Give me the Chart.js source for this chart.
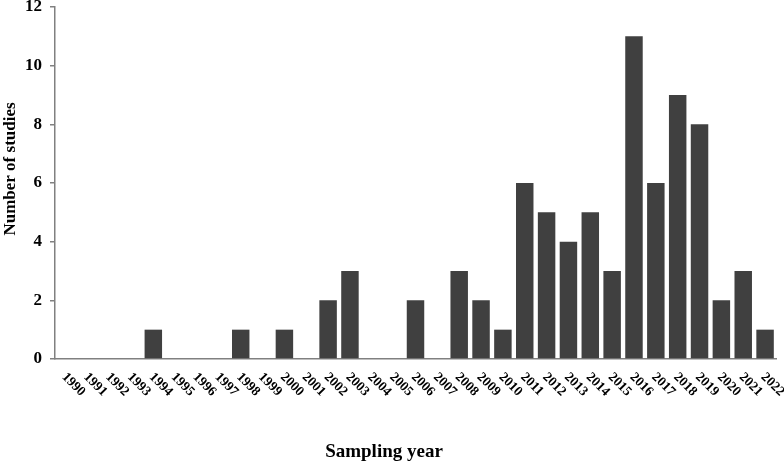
<!DOCTYPE html>
<html>
<head>
<meta charset="utf-8">
<script src="https://cdn.jsdelivr.net/npm/chart.js@4/dist/chart.umd.min.js"></script>
<style>
  html, body { margin: 0; padding: 0; background: #ffffff; }
  #wrap { width: 784px; height: 466px; position: relative; }
</style>
</head>
<body>
<div id="wrap"><canvas id="c" width="784" height="466"></canvas></div>
<script>
const years = ["1990","1991","1992","1993","1994","1995","1996","1997","1998","1999","2000","2001","2002","2003","2004","2005","2006","2007","2008","2009","2010","2011","2012","2013","2014","2015","2016","2017","2018","2019","2020","2021","2022"];
const studies = [0,0,0,0,1,0,0,0,1,0,1,0,2,3,0,0,2,0,3,2,1,6,5,4,5,3,11,6,9,8,2,3,1];
const yTicks = [0,2,4,6,8,10,12];
const xTitle = "Sampling year";
const yTitle = "Number of studies";

const FONT = "'Liberation Serif', 'Times New Roman', serif";

const labelPlugin = {
  id: 'customLabels',
  afterDraw(chart) {
    const ctx = chart.ctx;
    const xs = chart.scales.x;
    const area = chart.chartArea;
    ctx.save();
    ctx.fillStyle = '#000';
    ctx.font = "bold 13.5px " + FONT;
    ctx.textAlign = 'left';
    ctx.textBaseline = 'middle';
    years.forEach((y, i) => {
      const px = xs.getPixelForValue(i);
      ctx.save();
      ctx.translate(px - 2, area.bottom + 16);
      ctx.rotate(Math.PI / 4);
      ctx.fillText(y, 0, 0);
      ctx.restore();
    });
    ctx.font = "bold 19px " + FONT;
    ctx.textAlign = 'center';
    ctx.textBaseline = 'alphabetic';
    ctx.fillText(xTitle, 384, 457);
    ctx.save();
    ctx.font = "bold 17px " + FONT;
    ctx.translate(15, 169);
    ctx.rotate(-Math.PI / 2);
    ctx.fillText(yTitle, 0, 0);
    ctx.restore();
    ctx.restore();
  }
};

new Chart(document.getElementById('c'), {
  type: 'bar',
  data: {
    labels: years,
    datasets: [{
      data: studies,
      backgroundColor: '#404040',
      borderWidth: 0,
      categoryPercentage: 1.0,
      barPercentage: 0.8
    }]
  },
  options: {
    responsive: false,
    animation: false,
    devicePixelRatio: 1,
    layout: { padding: { left: 0, right: 8, top: 7, bottom: 107 } },
    plugins: { legend: { display: false }, tooltip: { enabled: false } },
    scales: {
      x: {
        grid: { display: false, drawTicks: false },
        border: { display: true, color: '#808080', width: 1.5 },
        ticks: { display: false }
      },
      y: {
        min: 0, max: 12,
        afterFit(scale) { scale.width = 55; scale.paddingTop = 0; scale.paddingBottom = 0; },
        afterBuildTicks(scale) { scale.ticks = yTicks.map(v => ({ value: v })); },
        grid: { display: true, drawOnChartArea: false, drawTicks: true, tickLength: 5, color: '#808080', lineWidth: 1.5 },
        border: { display: true, color: '#808080', width: 1.5 },
        ticks: { color: '#000', font: { family: FONT, size: 17, weight: 'bold' }, padding: 8 }
      }
    }
  },
  plugins: [labelPlugin]
});
</script>
</body>
</html>
